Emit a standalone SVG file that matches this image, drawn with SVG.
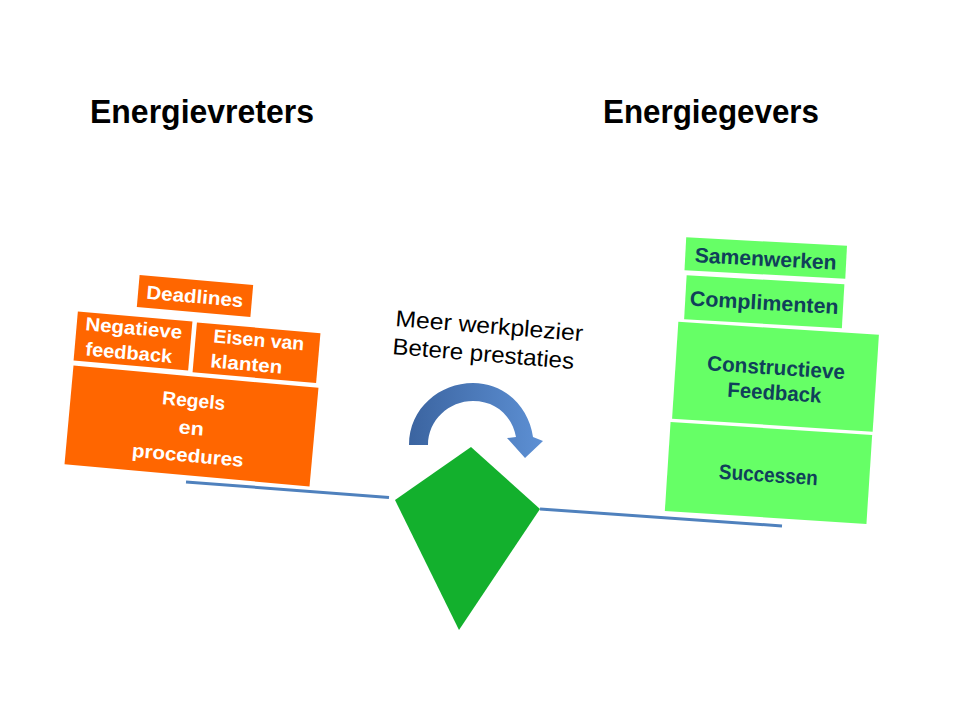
<svg xmlns="http://www.w3.org/2000/svg" width="960" height="720" viewBox="0 0 960 720">
<defs>
<linearGradient id="arrowGrad" x1="0" y1="0" x2="1" y2="0">
<stop offset="0" stop-color="#3b64a0"/>
<stop offset="1" stop-color="#5d90d4"/>
</linearGradient>
</defs>
<style>
.title{font-family:"Liberation Sans",Arial,sans-serif;font-weight:bold;font-size:33px;fill:#000}
.org{fill:#ff6600}
.grn{fill:#66ff66}
.ot{font-family:"Liberation Sans",Arial,sans-serif;font-weight:bold;font-size:19px;fill:#ffffff}
.gt{font-family:"Liberation Sans",Arial,sans-serif;font-weight:bold;font-size:21px;fill:#10405a;text-anchor:middle}
.mid{font-family:"Liberation Sans",Arial,sans-serif;font-size:23px;fill:#000}
.beam{stroke:#4f81bd;stroke-width:3;fill:none}
</style>
<rect width="960" height="720" fill="#ffffff"/>

<text class="title" x="90" y="123" textLength="224" lengthAdjust="spacingAndGlyphs">Energievreters</text>
<text class="title" x="603" y="123" textLength="216" lengthAdjust="spacingAndGlyphs">Energiegevers</text>

<g id="connectors">
<line class="beam" x1="186" y1="482" x2="389" y2="497.5"/>
<line class="beam" x1="540" y1="509" x2="782" y2="526"/>
</g>

<g id="fulcrum">
<polygon points="395,500 471,447 540,509 459,630" fill="#13b02d"/>
</g>

<g id="arrow">
<path d="M409,445 C409,408 440,383 473,383 C506,383 529,408 533,437 L543,441 L525,458 L507,438 L516,437 C512,416 496,401 473,401 C449,401 428,420 428,445 Z" fill="url(#arrowGrad)"/>
</g>

<g id="label-middle">
<text class="mid" transform="translate(395,326) rotate(4.6)" textLength="188" lengthAdjust="spacingAndGlyphs">Meer werkplezier</text>
<text class="mid" transform="translate(392,354) rotate(4.7)" textLength="182" lengthAdjust="spacingAndGlyphs">Betere prestaties</text>
</g>

<g id="deadlines" transform="translate(195,296) rotate(5)">
<rect class="org" x="-57" y="-16" width="114" height="32"/>
<text class="ot" x="0" y="7" text-anchor="middle" textLength="97" lengthAdjust="spacingAndGlyphs">Deadlines</text>
</g>

<g id="negatieve-feedback" transform="translate(133,341) rotate(5)">
<rect class="org" x="-57.5" y="-24.5" width="115" height="49"/>
<text class="ot" x="-48.8" y="-6.5" textLength="97" lengthAdjust="spacingAndGlyphs">Negatieve</text>
<text class="ot" x="-46.6" y="18.5" textLength="87" lengthAdjust="spacingAndGlyphs">feedback</text>
</g>

<g id="eisen-van-klanten" transform="translate(256.5,352.75) rotate(5)">
<rect class="org" x="-62" y="-25" width="124" height="50"/>
<text class="ot" x="-44.3" y="-6.5" textLength="91" lengthAdjust="spacingAndGlyphs">Eisen van</text>
<text class="ot" x="-45.1" y="18.5" textLength="72" lengthAdjust="spacingAndGlyphs">klanten</text>
</g>

<g id="regels-en-procedures" transform="translate(191.5,426) rotate(5.2)">
<rect class="org" x="-123" y="-49.5" width="246" height="99"/>
<text class="ot" x="0" y="-19" text-anchor="middle" textLength="63" lengthAdjust="spacingAndGlyphs">Regels</text>
<text class="ot" x="0" y="8.5" text-anchor="middle" textLength="25" lengthAdjust="spacingAndGlyphs">en</text>
<text class="ot" x="-1" y="36" text-anchor="middle" textLength="112" lengthAdjust="spacingAndGlyphs">procedures</text>
</g>

<g id="samenwerken" transform="translate(765.75,258) rotate(3)">
<rect class="grn" x="-80.5" y="-16.5" width="161" height="33"/>
<text class="gt" x="0" y="8" textLength="142" lengthAdjust="spacingAndGlyphs">Samenwerken</text>
</g>

<g id="complimenten" transform="translate(764.25,301.75) rotate(3.3)">
<rect class="grn" x="-79" y="-22" width="158" height="44"/>
<text class="gt" x="0" y="8" textLength="149" lengthAdjust="spacingAndGlyphs">Complimenten</text>
</g>

<g id="constructieve-feedback" transform="translate(775.5,376.75) rotate(3.7)">
<rect class="grn" x="-100.5" y="-48.5" width="201" height="97"/>
<text class="gt" x="0" y="-2" textLength="138" lengthAdjust="spacingAndGlyphs">Constructieve</text>
<text class="gt" x="0" y="23" textLength="94" lengthAdjust="spacingAndGlyphs">Feedback</text>
</g>

<g id="successen" transform="translate(768.5,473) rotate(3.7)">
<rect class="grn" x="-101" y="-44.5" width="202" height="89"/>
<text class="gt" x="0" y="9" textLength="99" lengthAdjust="spacingAndGlyphs">Successen</text>
</g>
</svg>
